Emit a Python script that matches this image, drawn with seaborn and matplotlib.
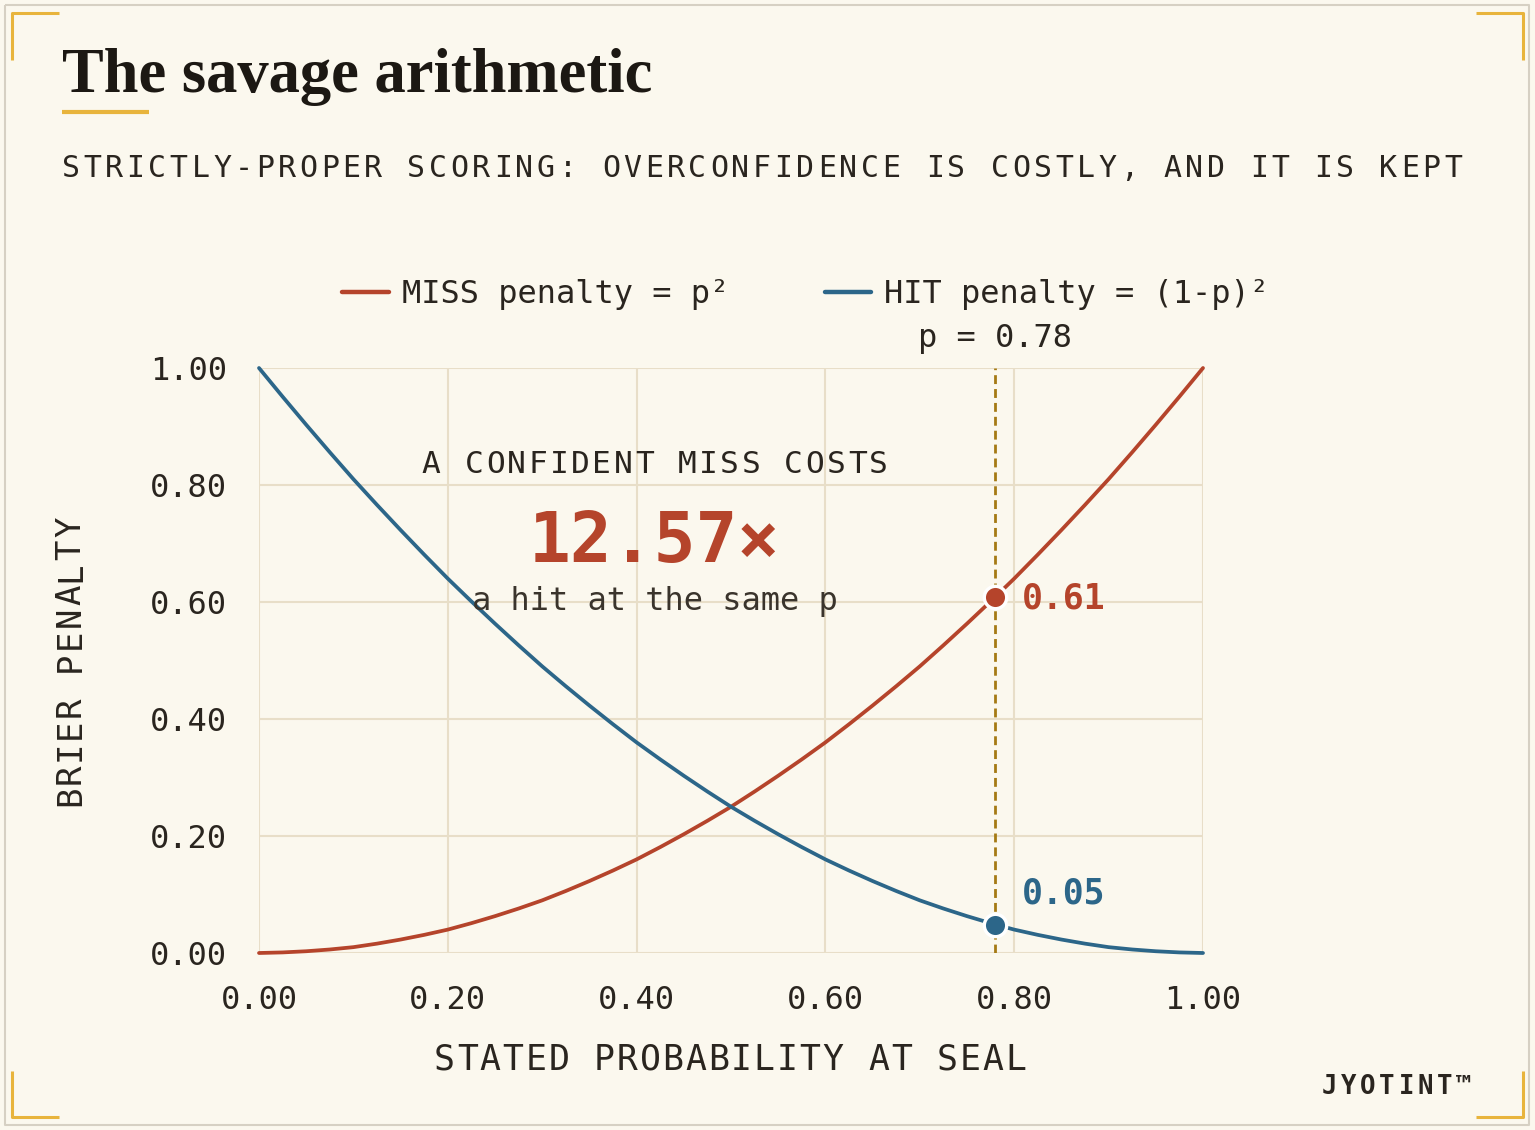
import pandas as pd
import matplotlib.pyplot as plt
from matplotlib.lines import Line2D
import seaborn as sns

# values
p_vals = [0.000, 0.025, 0.050, 0.075, 0.100, 0.125, 0.150, 0.175, 0.200, 0.225,
          0.250, 0.275, 0.300, 0.325, 0.350, 0.375, 0.400, 0.425, 0.450, 0.475,
          0.500, 0.525, 0.550, 0.575, 0.600, 0.625, 0.650, 0.675, 0.700, 0.725,
          0.750, 0.775, 0.800, 0.825, 0.850, 0.875, 0.900, 0.925, 0.950, 0.975, 1.000]
miss_vals = [0.000, 0.001, 0.003, 0.006, 0.010, 0.016, 0.023, 0.031, 0.040, 0.051,
             0.063, 0.076, 0.090, 0.106, 0.123, 0.141, 0.160, 0.181, 0.203, 0.226,
             0.250, 0.276, 0.303, 0.331, 0.360, 0.391, 0.423, 0.456, 0.490, 0.526,
             0.563, 0.601, 0.640, 0.681, 0.723, 0.766, 0.810, 0.856, 0.903, 0.951, 1.000]
hit_vals = [1.000, 0.951, 0.903, 0.856, 0.810, 0.766, 0.723, 0.681, 0.640, 0.601,
            0.563, 0.526, 0.490, 0.456, 0.423, 0.391, 0.360, 0.331, 0.303, 0.276,
            0.250, 0.226, 0.203, 0.181, 0.160, 0.141, 0.123, 0.106, 0.090, 0.076,
            0.063, 0.051, 0.040, 0.031, 0.023, 0.016, 0.010, 0.006, 0.003, 0.001, 0.000]
tick_vals = [0.0, 0.2, 0.4, 0.6, 0.8, 1.0]
seal_p = 0.78
seal_miss = 0.6084
seal_hit = 0.0484
ratio = 12.57

miss_label = 'MISS penalty = p²'
hit_label = 'HIT penalty = (1-p)²'

W, H = 1535, 1130
BG = '#fbf8ee'
TEXT = '#2a251f'
RED = '#b5442b'
BLUE = '#2c6689'
GOLD = '#e8b43c'
DASH = '#a57a14'
GRID = '#e8dec8'

sns.set_theme(style='white')
plt.rcParams['font.family'] = ['DejaVu Sans Mono', 'DejaVu Sans']

fig = plt.figure(figsize=(W / 100, H / 100), dpi=100, facecolor=BG)


def px(x, y):
    return x / W, 1 - y / H


def spaced(s, cx, cy, pitch, size, vertical=False, **kw):
    # monospaced text with extra letter spacing, centred on (cx, baseline cy) in pixels
    n = len(s)
    for i, ch in enumerate(s):
        off = (i - (n - 1) / 2) * pitch
        if vertical:
            x, y, rot = cx, cy - off, 90
        else:
            x, y, rot = cx + off, cy, 0
        fig.text(*px(x, y), ch, ha='center', va='baseline', rotation=rot,
                 rotation_mode='anchor', fontsize=size, **kw)


# frame and gold corner brackets
def fline(xs, ys, color, lw):
    fig.add_artist(Line2D([x / W for x in xs], [1 - y / H for y in ys], color=color, lw=lw,
                          solid_capstyle='butt'))


fline([5, 1529, 1529, 5, 5], [5, 5, 1125, 1125, 5], '#d6d0c3', 1.5)
fline([12, 12, 59], [60, 13, 13], GOLD, 2.2)
fline([1476, 1523, 1523], [13, 13, 60], GOLD, 2.2)
fline([12, 12, 59], [1071, 1117, 1117], GOLD, 2.2)
fline([1476, 1523, 1523], [1117, 1117, 1071], GOLD, 2.2)

# title block
fig.text(*px(62, 92), 'The savage arithmetic', family='Liberation Serif', weight='bold',
         fontsize=45, color='#1c1813')
fline([62, 149], [112, 112], GOLD, 3)
spaced('STRICTLY-PROPER SCORING: OVERCONFIDENCE IS COSTLY, AND IT IS KEPT',
       762, 177, 21.6, 21.5, color=TEXT)

# chart
df = pd.DataFrame({
    'p': p_vals + p_vals,
    'penalty': miss_vals + hit_vals,
    'series': [miss_label] * len(p_vals) + [hit_label] * len(p_vals),
})

ax = fig.add_axes([259 / W, 177 / H, 944 / W, 585 / H])
ax.set_facecolor(BG)
sns.lineplot(data=df, x='p', y='penalty', hue='series',
             palette={miss_label: RED, hit_label: BLUE}, linewidth=2.7, ax=ax)
for line in ax.lines:
    line.set_clip_on(False)

ax.axvline(seal_p, color=DASH, lw=2, linestyle=(0, (3.2, 1.8)), zorder=1.5)
ax.scatter([seal_p], [seal_miss], s=260, color=RED, edgecolor='white', linewidth=2.4,
           zorder=5, clip_on=False)
ax.scatter([seal_p], [seal_hit], s=260, color=BLUE, edgecolor='white', linewidth=2.4,
           zorder=5, clip_on=False)

ax.annotate(f'{seal_miss:.2f}', xy=(seal_p, seal_miss), xytext=(19, -8.5),
            textcoords='offset points', ha='left', va='baseline', color=RED,
            fontsize=25, weight='bold')
ax.annotate(f'{seal_hit:.2f}', xy=(seal_p, seal_hit), xytext=(19, 15),
            textcoords='offset points', ha='left', va='baseline', color=BLUE,
            fontsize=25, weight='bold')
ax.annotate(f'p = {seal_p:.2f}', xy=(seal_p, 1.0), xytext=(0, 15),
            textcoords='offset points', ha='center', va='baseline', color=TEXT,
            fontsize=23, annotation_clip=False)

ax.set_xlim(0, 1)
ax.set_ylim(0, 1)
ax.set_xticks(tick_vals)
ax.set_yticks(tick_vals)
ax.set_xticklabels([f'{t:.2f}' for t in tick_vals])
ax.set_yticklabels([f'{t:.2f}' for t in tick_vals])
ax.tick_params(axis='both', length=0, labelsize=23, labelcolor=TEXT)
ax.tick_params(axis='x', pad=23)
ax.tick_params(axis='y', pad=23)
ax.grid(True, color=GRID, lw=1.5)
ax.set_axisbelow(True)
sns.despine(ax=ax, left=True, bottom=True)
ax.set_xlabel('')
ax.set_ylabel('')

sns.move_legend(ax, 'center', bbox_to_anchor=(0.579, 1.125), ncol=2, title=None,
                frameon=False, fontsize=23, labelcolor=TEXT, handlelength=1.45,
                handletextpad=0.4, columnspacing=3.0)
for h in ax.get_legend().get_lines():
    h.set_linewidth(3.2)

# axis titles
spaced('STATED PROBABILITY AT SEAL', 730, 1070, 22.85, 25, color=TEXT)
spaced('BRIER PENALTY', 80, 661.5, 22.4, 24.5, vertical=True, color=TEXT)

# centre callout
spaced('A CONFIDENT MISS COSTS', 655, 473, 21.3, 22.5, color=TEXT)
fig.text(*px(654, 562), f'{ratio:.2f}×', ha='center', va='baseline', fontsize=50,
         weight='bold', color=RED)
fig.text(*px(655, 610), 'a hit at the same p', ha='center', va='baseline', fontsize=23,
         color='#3a342c')

# brand
spaced('JYOTINT™', 1396.7, 1094, 19.2, 18.5, color=TEXT, weight='bold')

fig.savefig('out.png', dpi=100, facecolor=BG)
